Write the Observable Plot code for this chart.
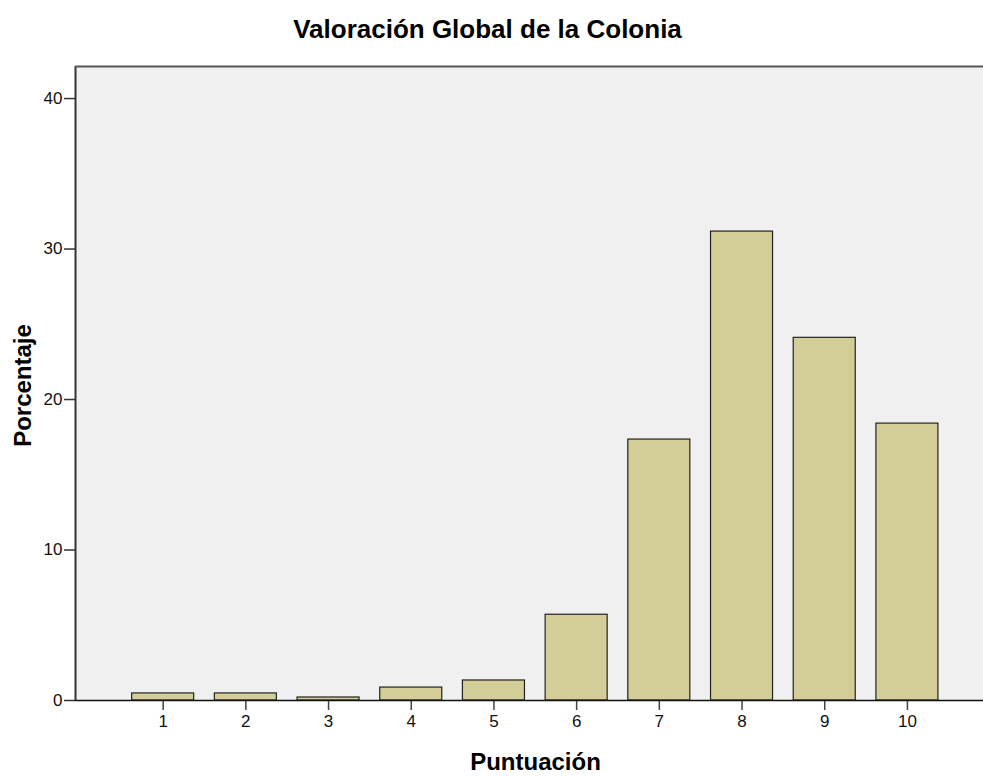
<!DOCTYPE html>
<html>
<head>
<meta charset="utf-8">
<script src="https://cdn.jsdelivr.net/npm/d3@7"></script>
<script src="https://cdn.jsdelivr.net/npm/@observablehq/plot@0.6"></script>
<style>
  html, body { margin: 0; padding: 0; background: #ffffff; }
  #chart svg { display: block; }
</style>
</head>
<body>
<div id="chart"></div>
<script>
const scores = [1, 2, 3, 4, 5, 6, 7, 8, 9, 10];
const percents = [0.47, 0.47, 0.2, 0.86, 1.33, 5.7, 17.34, 31.16, 24.1, 18.4];
const yTicks = [0, 10, 20, 30, 40];
const titleText = "Valoración Global de la Colonia";
const xLabel = "Puntuación";
const yLabel = "Porcentaje";

const data = scores.map((s, i) => ({score: s, pct: percents[i]}));
const halfBar = 0.375;

const chart = Plot.plot({
  width: 983,
  height: 776,
  marginTop: 66,
  marginBottom: 76,
  marginLeft: 75,
  marginRight: 0,
  style: {fontFamily: "'Liberation Sans', Arial, sans-serif", fontSize: "17px", color: "#000", background: "#fff"},
  x: {type: "linear", domain: [-0.06, 10.92], axis: null},
  y: {domain: [0, 42.13], axis: null},
  marks: [
    Plot.frame({fill: "#f0f0f0", stroke: "none"}),
    Plot.rectY(data, {
      x1: d => d.score - halfBar,
      x2: d => d.score + halfBar,
      y1: 0,
      y2: "pct",
      fill: "#d3ce97",
      stroke: "#222",
      strokeWidth: 1.2
    }),
    Plot.axisY({ticks: yTicks, tickSize: 11, tickPadding: 2, label: null, tickFormat: d => d, stroke: "#333", strokeWidth: 1.5, fontSize: 17, fill: "#111"}),
    Plot.axisX({ticks: scores, tickSize: 10, tickPadding: 4, label: null, tickFormat: d => d, stroke: "#444", strokeWidth: 1.5, fontSize: 17, fill: "#111"}),
    Plot.ruleY([0], {stroke: "#111", strokeWidth: 1.5}),
    Plot.ruleX([-0.06], {stroke: "#333", strokeWidth: 2}),
    Plot.ruleY([42.13], {stroke: "#555", strokeWidth: 2}),
    Plot.text([titleText], {frameAnchor: "top", dx: -42, dy: -37, lineAnchor: "middle", fontWeight: "bold", fontSize: 26, fill: "#000"}),
    Plot.text([xLabel], {frameAnchor: "bottom", dx: 6, dy: 62, lineAnchor: "middle", fontWeight: "bold", fontSize: 24, fill: "#000"}),
    Plot.text([yLabel], {frameAnchor: "left", dx: -52, dy: 2, rotate: -90, textAnchor: "middle", lineAnchor: "middle", fontWeight: "bold", fontSize: 24, fill: "#000"})
  ]
});
document.getElementById("chart").appendChild(chart);
</script>
</body>
</html>
